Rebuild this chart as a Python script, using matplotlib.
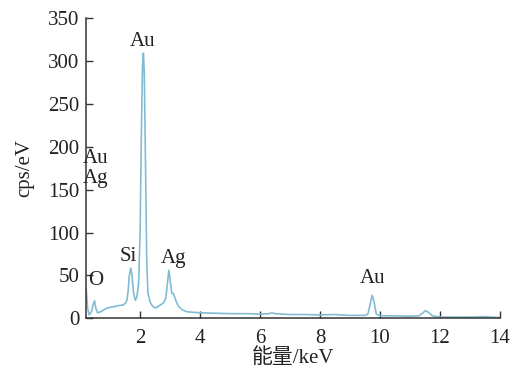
import matplotlib
matplotlib.use("Agg")
import matplotlib.pyplot as plt

# 能谱数据 (keV, cps/eV) - 从图中读取
energy = [0.2, 0.25, 0.3, 0.38, 0.44, 0.48, 0.52, 0.58, 0.7, 0.89, 1.1, 1.3, 1.43, 1.52, 1.56,
          1.6, 1.64, 1.69, 1.73, 1.78, 1.84, 1.89, 1.95, 2.0, 2.04, 2.08, 2.11, 2.14, 2.18, 2.22,
          2.26, 2.33, 2.38, 2.44, 2.52, 2.67, 2.78, 2.86, 2.92, 2.96, 3.01, 3.06, 3.11, 3.2, 3.28,
          3.4, 3.56, 3.8, 4.0, 4.5, 5.0, 5.5, 6.0, 6.3, 6.4, 6.5, 7.0, 7.5, 8.0, 8.5, 8.7, 9.0,
          9.5, 9.6, 9.66, 9.74, 9.8, 9.88, 10.0, 10.5, 11.0, 11.3, 11.42, 11.52, 11.62, 11.75,
          12.0, 12.5, 13.0, 13.5, 13.7, 14.0]
cps = [34, 12, 4, 8, 17, 20.5, 12, 6.5, 8, 12, 13.5, 15, 15.5, 18, 21,
       32, 50, 58.6, 50, 30, 21, 25, 40, 100, 210, 295, 309, 285, 180, 70,
       30, 19, 16, 13.5, 12, 15.5, 18, 24, 44, 56, 42, 29, 29, 20, 14,
       10, 7.7, 7, 6.5, 6, 5.5, 5.5, 5, 5.5, 6.5, 5.5, 4.5, 4.5, 4, 4.5, 4, 3.5,
       3.5, 5, 14, 27, 20, 5, 3, 3, 2.5, 3, 6, 9, 7, 3,
       1.5, 1.5, 1.5, 2, 1.5, 1]

# 峰标注
peak_names = ["Au", "Au", "Ag", "O", "Si", "Ag", "Au"]
peak_x = [2.1, 0.53, 0.53, 0.52, 1.6, 3.13, 9.76]
peak_y = [322, 186, 163, 44, 72, 70, 46]

plt.rcParams['font.family'] = ['Liberation Serif', 'Noto Sans CJK SC']
plt.rcParams['font.size'] = 15

fig = plt.figure(figsize=(5.19, 3.75), dpi=100)
ax = fig.add_axes([0.166, 0.151, 0.797, 0.8015])
ax.plot(energy, cps, color='#82bcd4', lw=1.2)

for name, x, y in zip(peak_names, peak_x, peak_y):
    ax.text(x, y, name, ha='center', va='center', fontsize=15, color='#222222')

ax.set_xlim(0.2, 14)
ax.set_ylim(0, 350)
ax.set_xticks([2, 4, 6, 8, 10, 12, 14])
ax.set_yticks([0, 50, 100, 150, 200, 250, 300, 350])
ax.spines['top'].set_visible(False)
ax.spines['right'].set_visible(False)
for s in ['left', 'bottom']:
    ax.spines[s].set_linewidth(1.1)
    ax.spines[s].set_color('#333333')
ax.tick_params(direction='in', length=5, width=1.0, colors='#333333', labelcolor='#222222')
ax.tick_params(axis='x', pad=8)
ax.tick_params(axis='y', pad=5)
ax.set_xlabel('能量/keV', labelpad=0, color='#222222')
ax.set_ylabel('cps/eV', labelpad=10, color='#222222')

fig.savefig('out.png', dpi=100)
